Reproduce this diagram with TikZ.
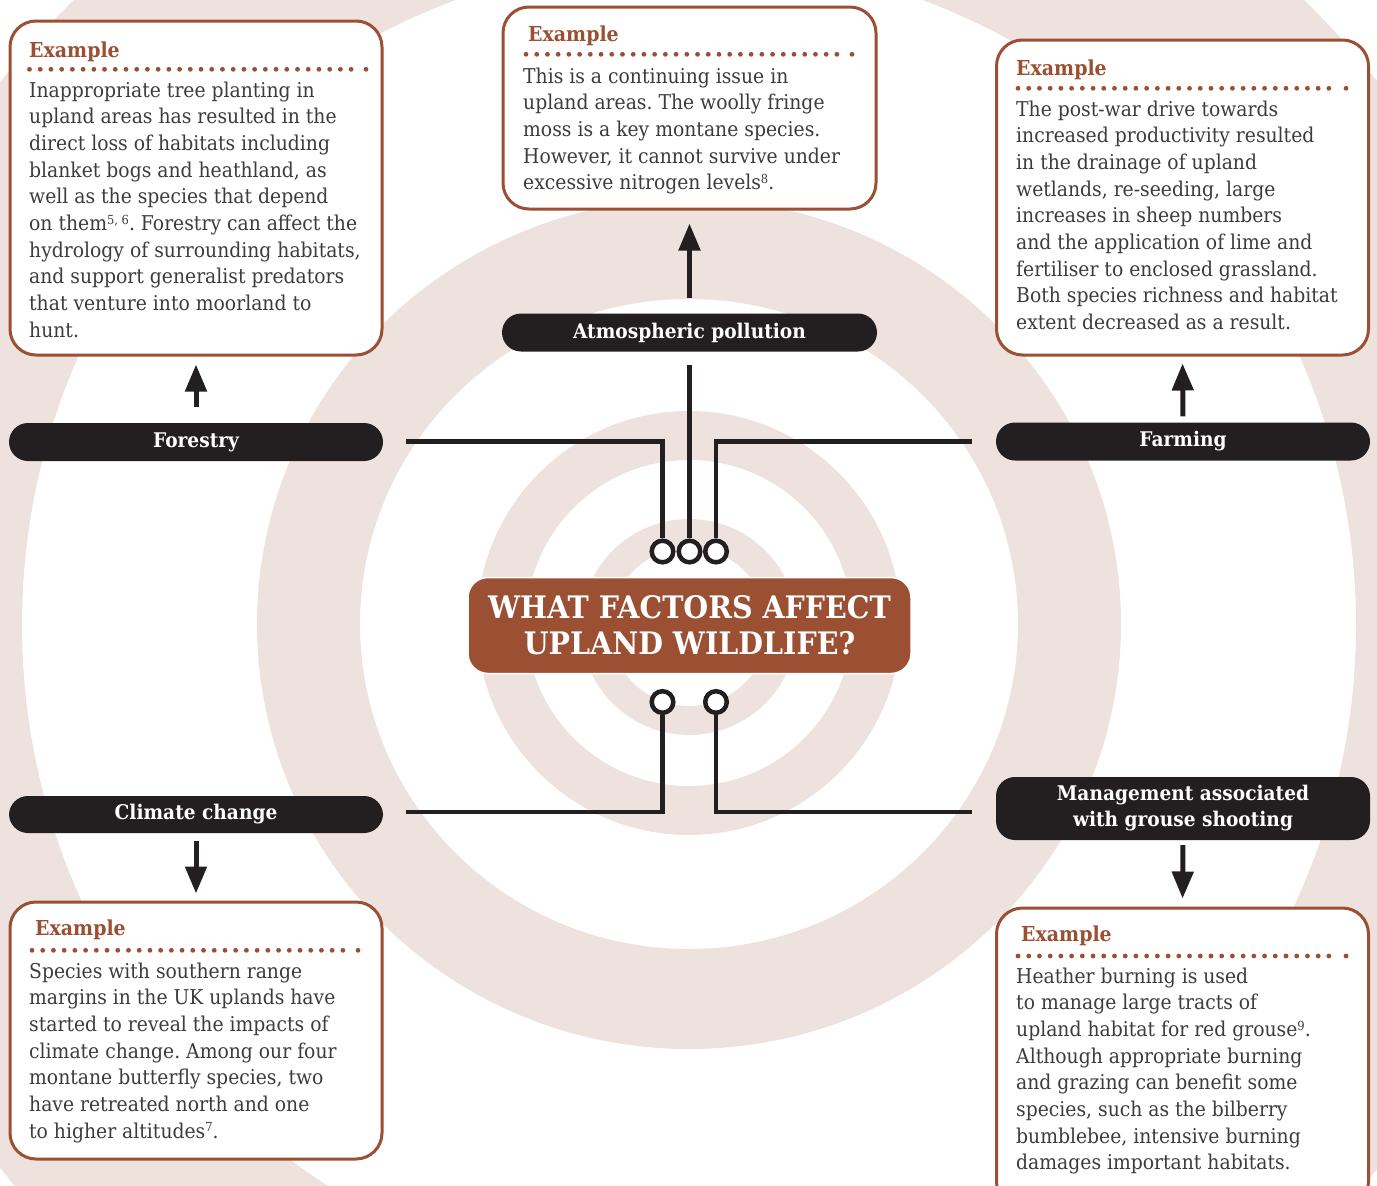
\documentclass[tikz,border=0pt]{standalone}
\usepackage{fontspec}
\setmainfont{DejaVu Serif}[FakeStretch=0.92]
\usetikzlibrary{arrows.meta}
\definecolor{ringc}{HTML}{EDE2DD}
\definecolor{rust}{HTML}{9B4F33}
\definecolor{ink}{HTML}{231F20}
\definecolor{bodyc}{HTML}{3C3C3C}
\frenchspacing
\newcommand{\dotrow}[3]{%
  \draw[dotsty] (#1,#3) -- ({#2-12},#3);
  \fill[rust] (#2,#3) circle[radius=2.4pt];}
\newcommand{\fnref}[1]{\raisebox{6.5pt}{\fontsize{12.5}{12.5}\selectfont #1}}
\begin{document}
\begin{tikzpicture}[x=1pt,y=-1pt,
  exbox/.style={draw=rust, line width=3pt, rounded corners=26pt, fill=white, inner sep=0pt},
  pill/.style={fill=ink, rounded corners=19pt, inner sep=0pt, text=white, align=center,
     font=\fontsize{20.2}{26}\selectfont\bfseries},
  hdr/.style={anchor=base west, inner sep=0pt, text=rust, font=\fontsize{20.6}{24}\selectfont\bfseries},
  bodytxt/.style={anchor=north west, inner sep=0pt, text=bodyc, align=left,
     font=\fontsize{20.4}{26.67}\selectfont},
  dotsty/.style={rust, line width=4.8pt, line cap=round, dash pattern=on 0pt off 10.72pt},
  conn/.style={ink, line width=4.5pt},
  knob/.style={circle, draw=ink, line width=4.5pt, fill=white, minimum size=21.6pt, inner sep=0pt},
  arr/.style={ink, line width=5pt, -{Triangle[length=27pt, width=21pt]}},
  titlebox/.style={fill=rust, draw=white, line width=1.5pt, rounded corners=20pt, text=white,
     align=center, inner sep=0pt, font=\fontsize{31}{36}\selectfont\bfseries},
]
\useasboundingbox (0,0) rectangle (1377,1186);
% background rings
\begin{scope}
\clip (0,0) rectangle (1377,1186);
\fill[ringc, even odd rule] (689,625) circle[radius=877pt] (689,625) circle[radius=667pt];
\fill[ringc, even odd rule] (689,624) ellipse[x radius=432pt, y radius=425pt] (689,624) ellipse[x radius=329pt, y radius=325pt];
\fill[ringc, even odd rule] (689,623) circle[radius=212pt] (689,623) circle[radius=163pt];
\fill[ringc, even odd rule] (689,627) circle[radius=108pt] (689,627) circle[radius=79pt];
\end{scope}

% example boxes
\node[exbox, minimum width=372pt, minimum height=334pt] (tlbox) at (196,188) {};
\node[exbox, minimum width=373pt, minimum height=202pt] (tbox) at (689.5,108) {};
\node[exbox, minimum width=372pt, minimum height=315pt] (trbox) at (1182.5,197.5) {};
\node[exbox, minimum width=372pt, minimum height=257pt] (blbox) at (196,1030.5) {};
\node[exbox, minimum width=372pt, minimum height=300pt] (brbox) at (1182.5,1058) {};

% headers
\node[hdr] (tlh) at (29,57) {Example};
\node[hdr] (th) at (528,41.7) {Example};
\node[hdr] (trh) at (1016,75) {Example};
\node[hdr] (blh) at (35,935.7) {Example};
\node[hdr] (brh) at (1021,941.7) {Example};

% dotted rules
\dotrow{29.5}{366}{69.3}
\dotrow{526}{852}{54.3}
\dotrow{1018}{1346}{88.3}
\dotrow{32}{358}{950.3}
\dotrow{1018}{1346}{956}

% body texts
\node[bodytxt] (tlt) at (29,78.3) {\strut Inappropriate tree planting in\\
upland areas has resulted in the\\
direct loss of habitats including\\
blanket bogs and heathland, as\\
well as the species that depend\\
on them\fnref{5, 6}. Forestry can affect the\\
hydrology of surrounding habitats,\\
and support generalist predators\\
that venture into moorland to\\
hunt.};
\node[bodytxt] (tt) at (523,64.3) {\strut This is a continuing issue in\\
upland areas. The woolly fringe\\
moss is a key montane species.\\
However, it cannot survive under\\
excessive nitrogen levels\fnref{8}.};
\node[bodytxt] (trt) at (1016,97.3) {\strut The post-war drive towards\\
increased productivity resulted\\
in the drainage of upland\\
wetlands, re-seeding, large\\
increases in sheep numbers\\
and the application of lime and\\
fertiliser to enclosed grassland.\\
Both species richness and habitat\\
extent decreased as a result.};
\node[bodytxt] (blt) at (29,959.3) {\strut Species with southern range\\
margins in the UK uplands have\\
started to reveal the impacts of\\
climate change. Among our four\\
montane butterfly species, two\\
have retreated north and one\\
to higher altitudes\fnref{7}.};
\node[bodytxt] (brt) at (1016,964.3) {\strut Heather burning is used\\
to manage large tracts of\\
upland habitat for red grouse\fnref{9}.\\
Although appropriate burning\\
and grazing can benefit some\\
species, such as the bilberry\\
bumblebee, intensive burning\\
damages important habitats.};

% factor pills
\node[pill, minimum width=374pt, minimum height=38pt] (forestry) at (196,442) {Forestry};
\node[pill, minimum width=375pt, minimum height=38pt] (atmos) at (689.5,332.5) {Atmospheric pollution};
\node[pill, minimum width=374pt, minimum height=38pt] (farming) at (1183,441.5) {Farming};
\node[pill, minimum width=374pt, minimum height=37pt] (climate) at (196,814.5) {Climate change};
\node[pill, minimum width=374pt, minimum height=63pt] (grouse) at (1183,808.5) {Management associated\\with grouse shooting};

% central question
\node[titlebox, minimum width=443pt, minimum height=96pt] (q) at (689.5,625.5) {WHAT FACTORS AFFECT\\UPLAND WILDLIFE?};

% connector knobs
\node[knob] (k1) at (662.5,551.5) {};
\node[knob] (k2) at (689.5,551.5) {};
\node[knob] (k3) at (716,551.5) {};
\node[knob] (k4) at (662.5,702) {};
\node[knob] (k5) at (716,702) {};

% connector free ends
\coordinate (fs) at (406,441.5);
\coordinate (as) at (689.5,365);
\coordinate (ms) at (972,441.5);
\coordinate (cs) at (406,812);
\coordinate (gs) at (972,812);

\draw[conn] (fs) -| (k1.north);
\draw[conn] (as) -- (k2.north);
\draw[conn] (ms) -| (k3.north);
\draw[conn] (cs) -| (k4.south);
\draw[conn] (gs) -| (k5.south);

% arrows
\draw[arr, shorten <=16pt, shorten >=8pt] (forestry.north) -- (tlbox.south);
\draw[arr, shorten <=15pt, shorten >=13pt] (atmos.north) -- (tbox.south);
\draw[arr, shorten <=6pt, shorten >=7pt] (farming.north) -- (trbox.south);
\draw[arr, shorten <=8pt, shorten >=7pt] (climate.south) -- (blbox.north);
\draw[arr, shorten <=5pt, shorten >=8pt] (grouse.south) -- (brbox.north);
\end{tikzpicture}
\end{document}
